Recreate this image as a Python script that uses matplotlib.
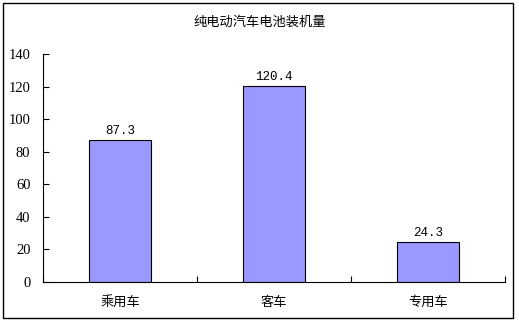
import matplotlib
matplotlib.use("Agg")
import matplotlib.pyplot as plt
from matplotlib.patches import Rectangle

plt.rcParams['font.family'] = ['Noto Sans CJK SC', 'DejaVu Sans']

# data
categories = ["乘用车", "客车", "专用车"]
values = [87.3, 120.4, 24.3]
yticks = [0, 20, 40, 60, 80, 100, 120, 140]
title = "纯电动汽车电池装机量"

fig = plt.figure(figsize=(5.19, 3.24), dpi=100)
ax = fig.add_axes([43 / 519, 1 - 282 / 324, (505 - 43) / 519, (282 - 54) / 324])

# outer chart frame
fig.patches.append(Rectangle((3 / 519, 1 - 318 / 324), 510 / 519, 315 / 324,
                             transform=fig.transFigure, fill=False,
                             edgecolor="black", linewidth=1))

x = range(len(categories))
ax.bar(x, values, width=0.4, color="#9999FF", edgecolor="black", linewidth=0.8)
for xi, v in zip(x, values):
    ax.text(xi, v + 2, f"{v:.1f}", ha="center", va="bottom", fontsize=9,
            family=["Liberation Mono", "DejaVu Sans"])

ax.set_xlim(-0.5, 2.5)
ax.set_ylim(0, 140)
ax.set_yticks(yticks)
ax.set_yticklabels([str(t) for t in yticks], family=["Liberation Serif"], fontsize=10.5)
ax.set_xticks([-0.5, 0.5, 1.5, 2.5], minor=False)
ax.set_xticklabels([])
ax.set_xticks(list(x), minor=True)
ax.set_xticklabels(categories, minor=True, fontsize=9.5)
ax.tick_params(axis="x", which="minor", length=0, pad=10)
ax.tick_params(axis="x", which="major", direction="in", length=4)
ax.tick_params(axis="y", direction="in", length=4, pad=9)

ax.spines["top"].set_visible(False)
ax.spines["right"].set_visible(False)

fig.text(0.5, 1 - 22 / 324, title, ha="center", va="center", fontsize=9.5)

fig.savefig("out.png", dpi=100)
